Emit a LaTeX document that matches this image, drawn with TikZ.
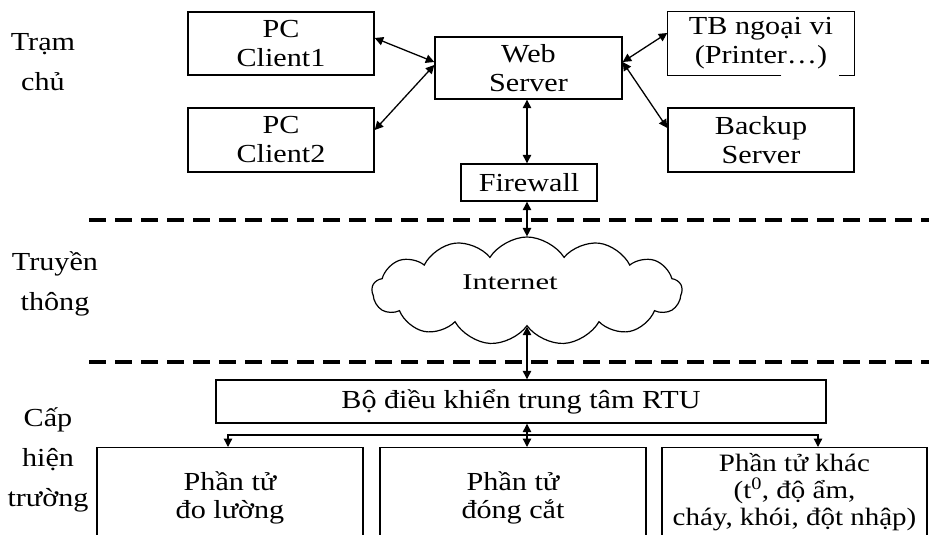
\documentclass[tikz,border=0pt]{standalone}
\usepackage{fontspec}
\setmainfont{Liberation Serif}[FakeStretch=1.16]
\newfontfamily\inetfont{Liberation Serif}[FakeStretch=1.36]
\usetikzlibrary{shapes.symbols,arrows.meta}
\tikzset{
  box/.style={draw, line width=1.4pt, align=center, inner sep=0pt,
    font=\fontsize{26}{29}\selectfont},
  side/.style={align=center, inner sep=0pt, font=\fontsize{26}{40}\selectfont},
  arr/.style={line width=1.3pt, {Triangle[length=8.5pt,width=8.5pt]}-{Triangle[length=8.5pt,width=8.5pt]}},
  dashline/.style={line width=4pt, dash pattern=on 17pt off 9pt},
}
\begin{document}
\begin{tikzpicture}[x=1pt,y=-1pt]
\useasboundingbox (0,0) rectangle (929,535);
\clip (0,0) rectangle (929,535);
% side labels
\node[side] (l1) at (43,62) {Trạm\\chủ};
\node[side] (l2) at (55,284) {Truyền\\thông};
\node[side] (l3) at (48,460) {Cấp\\hiện\\trường};
% top boxes
\node[box, minimum width=186pt, minimum height=63pt] (c1) at (281,43.5) {PC\\Client1};
\node[box, minimum width=186pt, minimum height=64pt] (c2) at (281,140) {PC\\Client2};
\node[box, minimum width=187pt, minimum height=62pt] (web) at (528.5,68) {Web\\Server};
\node[box, draw=none, minimum width=186pt, minimum height=63pt] (tb) at (761,43.5) {TB ngoại vi\\(Printer…)};
\draw[line width=1.4pt] ([xshift=114pt]tb.south west) -- (tb.south west) -- (tb.north west) -- (tb.north east) -- (tb.south east) -- ([xshift=-16pt]tb.south east);
\node[box, minimum width=186pt, minimum height=64pt] (bk) at (761,140) {Backup\\Server};
\node[box, minimum width=136pt, minimum height=37pt] (fw) at (529,182.5) {Firewall};
% cloud
\node[cloud, draw, line width=1.2pt, cloud puffs=13, cloud puff arc=115, aspect=2.9,
  minimum width=310pt, minimum height=108pt] (cloud) at (527,291) {};
\node[font=\inetfont\fontsize{22.5}{26}\selectfont] (inet) at (510,282) {Internet};
% field level
\node[box, minimum width=610pt, minimum height=43pt] (rtu) at (521,401.5) {Bộ điều khiển trung tâm RTU};
\node[box, anchor=north, minimum width=266pt, minimum height=100pt, font=\fontsize{26}{28}\selectfont] (m1) at (230,447) {Phần tử\\đo lường};
\node[box, anchor=north, minimum width=266pt, minimum height=100pt, font=\fontsize{26}{28}\selectfont] (m2) at (513,447) {Phần tử\\đóng cắt};
\node[box, anchor=north, minimum width=265pt, minimum height=88pt, font=\fontsize{25}{27}\selectfont] (m3) at (794.5,447) {Phần tử khác\\(t\textsuperscript{0}, độ ẩm,\\cháy, khói, đột nhập)};
% dashed separators
\coordinate (d1) at (89,220); \coordinate (d1e) at (929,220);
\coordinate (d2) at (89,362); \coordinate (d2e) at (929,362);
\draw[dashline] (d1) -- (d1e);
\draw[dashline] (d2) -- (d2e);
% connectors
\draw[arr] ([yshift=5.5pt]c1.east) -- ([yshift=6pt]web.west);
\draw[arr] ([yshift=10pt]c2.east) -- ([yshift=3pt]web.west);
\draw[arr] ([yshift=6pt]web.east) -- ([yshift=10.5pt]tb.west);
\draw[arr] ([yshift=6pt]web.east) -- ([yshift=12pt]bk.west);
\coordinate (ax) at (527,0);
\draw[arr] (ax |- web.south) -- (ax |- fw.north);
\draw[arr] (ax |- fw.south) -- (ax |- cloud.north);
\draw[arr] (ax |- cloud.south) -- (ax |- rtu.north);
\draw[arr] (ax |- rtu.south) -- (ax |- m2.north);
\coordinate (bl) at (228,435); \coordinate (br) at (818,435);
\draw[line width=1.3pt, {Triangle[length=8.5pt,width=8.5pt]}-{Triangle[length=8.5pt,width=8.5pt]}] (bl |- m1.north) -- (bl) -- (br) -- (br |- m3.north);
\end{tikzpicture}
\end{document}
